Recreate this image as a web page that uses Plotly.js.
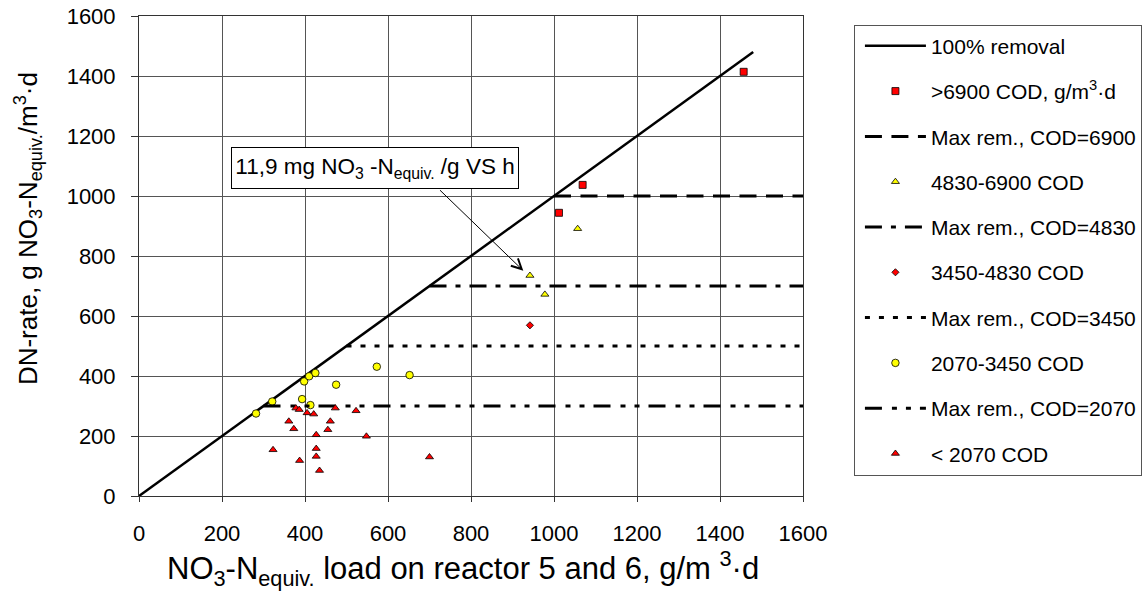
<!DOCTYPE html>
<html>
<head>
<meta charset="utf-8">
<script src="https://cdn.plot.ly/plotly-3.0.1.min.js"></script>
<style>html,body{margin:0;padding:0;background:#fff;}#chart{width:1145px;height:603px;}</style>
</head>
<body>
<div id="chart"></div>
<script>
// 100% removal line
const removalX = [0, 1480];
const removalY = [0, 1480];

// Max removal levels (g NO3-N/m3d) for COD classes
const maxRemLabels = ['Max rem., COD=6900', 'Max rem., COD=4830', 'Max rem., COD=3450', 'Max rem., COD=2070'];
const maxRemLevels = [1000, 700, 500, 300];
const axisMax = 1600;

// Scatter series
const cod6900X = [1012, 1069, 1457];
const cod6900Y = [944, 1037, 1414];

const cod4830X = [942, 978, 1057];
const cod4830Y = [735, 672, 891];

const cod3450X = [942];
const cod3450Y = [569];

const cod2070X = [282, 321, 393, 398, 410, 413, 425, 475, 573, 652];
const cod2070Y = [275, 315, 323, 382, 399, 303, 410, 371, 431, 403];

const codLowX = [323, 361, 373, 378, 386, 387, 405, 421, 427, 427, 427, 435, 455, 461, 473, 523, 548, 700];
const codLowY = [154, 249, 224, 293, 288, 118, 277, 273, 204, 158, 132, 85, 221, 249, 293, 284, 199, 130];

const tickVals = [0, 200, 400, 600, 800, 1000, 1200, 1400, 1600];

const FONT = 'Liberation Sans, Arial, sans-serif';
const dashes = ['17px,9.5px', '17px,9px,5px,9px', '5px,9px', '17px,10px,5px,9px,5px,9px'];

function hline(i) {
  return {
    x: [maxRemLevels[i], axisMax], y: [maxRemLevels[i], maxRemLevels[i]],
    mode: 'lines', name: maxRemLabels[i], legendgroup: 'm' + i,
    line: {color: '#000', width: 3, dash: dashes[i]}
  };
}
function pts(x, y, name, symbol, color, size, g) {
  return {
    x: x, y: y, mode: 'markers', name: name, legendgroup: g,
    marker: {symbol: symbol, color: color, size: size, line: {color: '#000', width: 0.8}}
  };
}

const traces = [
  {x: removalX, y: removalY, mode: 'lines', name: '100% removal', legendgroup: 'r',
   line: {color: '#000', width: 2.5}},
  pts(cod6900X, cod6900Y, '>6900 COD, g/m<sup>3</sup>·d', 'square', '#ff0000', 7, 'a'),
  hline(0),
  pts(cod4830X, cod4830Y, '4830-6900 COD', 'triangle-up', '#ffff00', 7, 'b'),
  hline(1),
  pts(cod3450X, cod3450Y, '3450-4830 COD', 'diamond', '#ff0000', 5.5, 'c'),
  hline(2),
  pts(cod2070X, cod2070Y, '2070-3450 COD', 'circle', '#ffff00', 7.5, 'd'),
  hline(3),
  pts(codLowX, codLowY, '< 2070 COD', 'triangle-up', '#ff0000', 7, 'e')
];

const axisCommon = {
  range: [0, 1600], tickvals: tickVals, ticktext: tickVals.map(String),
  showgrid: true, gridcolor: '#555', gridwidth: 1,
  showline: true, linecolor: '#333', linewidth: 1, mirror: true,
  ticks: 'outside', tickcolor: '#333',
  zeroline: false, tickfont: {family: FONT, size: 22, color: '#000'}
};

const layout = {
  width: 1145, height: 603,
  margin: {l: 138.5, r: 341.7, t: 16.3, b: 106.7, autoexpand: false},
  paper_bgcolor: '#fff', plot_bgcolor: '#fff',
  font: {family: FONT, color: '#000'},
  xaxis: Object.assign({}, axisCommon, {ticklen: 5, ticklabelstandoff: 13}),
  yaxis: Object.assign({}, axisCommon, {ticklen: 7, ticklabelstandoff: 11}),
  showlegend: true,
  legend: {
    x: 1.0767, y: 0.982, xanchor: 'left', yanchor: 'top',
    bordercolor: '#555', borderwidth: 1, bgcolor: '#fff',
    font: {family: FONT, size: 21, color: '#000'},
    tracegroupgap: 15, itemwidth: 61, indentation: 5, traceorder: 'grouped'
  },
  annotations: [
    {xref: 'paper', yref: 'paper', x: -0.168, y: 0.557, xanchor: 'center', yanchor: 'middle',
     textangle: -90, showarrow: false,
     text: 'DN-rate, g NO<sub>3</sub>-N<sub>equiv.</sub>/m<sup>3</sup>·d',
     font: {family: FONT, size: 26, color: '#000'}},
    {xref: 'paper', yref: 'paper', x: 0.488, y: -0.152, xanchor: 'center', yanchor: 'middle',
     showarrow: false,
     text: 'NO<sub>3</sub>-N<sub>equiv.</sub> load on reactor 5 and 6, g/m <sup>3</sup>·d',
     font: {family: FONT, size: 31, color: '#000'}},
    {xref: 'x', yref: 'y', x: 569, y: 1094, xanchor: 'center', yanchor: 'middle',
     showarrow: false, width: 284, height: 38,
     text: '11,9 mg NO<sub>3</sub> -N<sub>equiv.</sub> /g VS h',
     bordercolor: '#000', borderwidth: 1, bgcolor: '#fff',
     font: {family: FONT, size: 22.5, color: '#000'}},
    {xref: 'x', yref: 'y', x: 926, y: 751, axref: 'x', ayref: 'y', ax: 718, ay: 1029,
     text: ' ', showarrow: true, arrowhead: 5, arrowsize: 2, arrowwidth: 1, arrowcolor: '#000'}
  ]
};

Plotly.newPlot('chart', traces, layout, {displayModeBar: false, staticPlot: true});
</script>
</body>
</html>
